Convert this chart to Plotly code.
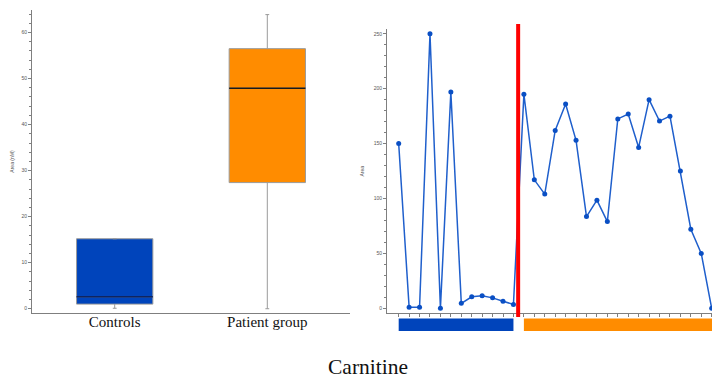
import plotly.graph_objects as go

# ---- Data ----
groups = ["Controls", "Patient group"]
box_q1 = [1.0, 27.4]
box_median = [2.6, 47.9]
box_q3 = [15.2, 56.5]
box_low = [0.1, 0.0]
box_high = [15.2, 63.9]
box_colors = ["#0044BB", "#FF8C00"]
median_colors = ["#0f2460", "#1a1a1a"]

controls_series = [150, 1, 1, 250, 0, 197, 4.5, 10.5, 11.5, 9.5, 6.5, 3.5]
patient_series = [195, 117, 104, 162, 186, 153, 83.5, 98.5, 79, 172.5, 177,
                  146.5, 190, 170.5, 175, 125, 72, 50, 0]
title_text = "Carnitine"

fig = go.Figure()

# ---- Left: box plots ----
for i, g in enumerate(groups):
    fig.add_trace(go.Box(
        x=[i], q1=[box_q1[i]], median=[box_median[i]], q3=[box_q3[i]],
        lowerfence=[box_low[i]], upperfence=[box_high[i]],
        fillcolor=box_colors[i], line=dict(color="#9a9a9a", width=1),
        width=0.5, whiskerwidth=0.05, showlegend=False, hoverinfo="skip",
        xaxis="x", yaxis="y"))
    fig.add_trace(go.Box(
        x=[i], q1=[box_median[i]], median=[box_median[i]], q3=[box_median[i]],
        lowerfence=[box_median[i]], upperfence=[box_median[i]],
        fillcolor="rgba(0,0,0,0)", line=dict(color=median_colors[i], width=1.3),
        width=0.5, whiskerwidth=0, showlegend=False, hoverinfo="skip",
        xaxis="x", yaxis="y"))

# ---- Right: line plot ----
all_vals = controls_series + patient_series
idx = list(range(len(all_vals)))
fig.add_trace(go.Scatter(
    x=idx, y=all_vals, mode="lines+markers",
    line=dict(color="#1f5fcc", width=1.5),
    marker=dict(color="#0a4fc4", size=5),
    showlegend=False, hoverinfo="skip", xaxis="x2", yaxis="y2",
    cliponaxis=False))

n_c = len(controls_series)
n_all = len(all_vals)
# group bars below axis
fig.add_shape(type="rect", xref="x2", yref="paper", x0=0, x1=n_c - 1,
              y0=0.129, y1=0.162, fillcolor="#0044BB", line=dict(width=0))
fig.add_shape(type="rect", xref="x2", yref="paper", x0=n_c, x1=n_all + 1,
              y0=0.129, y1=0.162, fillcolor="#FF8C00", line=dict(width=0))
# red divider
fig.add_shape(type="line", xref="x2", yref="paper", x0=n_c - 0.55, x1=n_c - 0.55,
              y0=0.166, y1=0.937, line=dict(color="#FF0000", width=4))

axis_common = dict(showline=True, linecolor="#7f7f7f", linewidth=1,
                   showgrid=False, zeroline=False, mirror=False)

fig.update_layout(
    width=712, height=380,
    margin=dict(l=0, r=0, t=0, b=0),
    paper_bgcolor="white", plot_bgcolor="white",
    xaxis=dict(domain=[32 / 712, 350 / 712], range=[-0.542, 1.542],
               tickvals=[0, 1], ticktext=groups, ticks="", ticklabelstandoff=-5,
               tickfont=dict(family="Liberation Serif", size=15, color="#111"),
               anchor="y", **axis_common),
    yaxis=dict(domain=[(380 - 313) / 380, (380 - 10) / 380], range=[-0.93, 64.9],
               tickvals=[0, 10, 20, 30, 40, 50, 60], ticks="outside", ticklen=3,
               tickcolor="#7f7f7f",
               minor=dict(dtick=2, tick0=0, ticks="outside", ticklen=2, tickcolor="#7f7f7f"),
               tickfont=dict(family="Liberation Sans", size=5, color="#555"),
               title=dict(text="Area (nM)", font=dict(family="Liberation Sans", size=5, color="#555"),
                          standoff=6),
               anchor="x", **axis_common),
    xaxis2=dict(domain=[387 / 712, 1.0], range=[-1.12, 30.03],
                tickvals=idx, showticklabels=False, ticks="outside", ticklen=3,
                tickcolor="#7f7f7f", anchor="y2", **axis_common),
    yaxis2=dict(domain=[(380 - 313.3) / 380, (380 - 29.3) / 380], range=[-4.55, 254.1],
                tickvals=[0, 50, 100, 150, 200, 250], ticks="outside", ticklen=3,
                tickcolor="#7f7f7f",
                minor=dict(dtick=10, tick0=0, ticks="outside", ticklen=2, tickcolor="#7f7f7f"),
                tickfont=dict(family="Liberation Sans", size=5, color="#555"),
                title=dict(text="Area", font=dict(family="Liberation Sans", size=5, color="#555"),
                           standoff=8),
                anchor="x2", **axis_common),
    annotations=[dict(text=title_text, x=368 / 712, y=(380 - 367) / 380,
                      xref="paper", yref="paper", showarrow=False,
                      xanchor="center", yanchor="middle",
                      font=dict(family="Liberation Serif", size=21.5, color="#111"))],
)

fig.write_html("out.html", config={"displayModeBar": False},
               post_script="document.body.style.margin='0';document.body.style.overflow='hidden';")
